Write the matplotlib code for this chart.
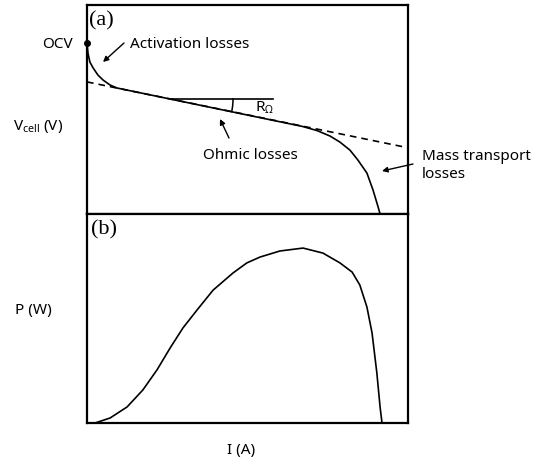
import numpy as np
import matplotlib
matplotlib.use("Agg")
import matplotlib.pyplot as plt

plt.rcParams['font.family'] = ['Noto Sans', 'DejaVu Sans']
plt.rcParams['mathtext.fontset'] = 'custom'
plt.rcParams['mathtext.rm'] = 'Noto Sans'
plt.rcParams['mathtext.it'] = 'Noto Sans'

# ---- data (arbitrary units) ----
# polarization curve (top panel)
current_v = [0.0, 0.3, 0.9, 1.9, 3.4, 5.0, 7.2, 9.3, 67.1,
             71.7, 75.7, 78.8, 81.9, 84.4, 87.2, 89.1, 90.7, 91.3]
voltage = [81.8, 77.0, 72.7, 69.9, 66.5, 64.1, 61.7, 60.3, 41.9,
           39.9, 37.3, 34.4, 30.6, 25.8, 19.6, 11.5, 3.3, 0.0]
# ohmic extrapolation (dashed)
ohmic_i = [0.0, 100.0]
ohmic_v = [63.2, 31.7]
# horizontal reference for R_Omega
ref_i = [26.4, 57.9]
ref_v = [55.0, 55.0]

# power curve (bottom panel)
current_p = [0.0, 2.5, 7.2, 12.5, 17.4, 21.8, 25.9, 29.9, 34.3, 39.3, 45.5, 49.8,
             53.9, 60.1, 67.3, 73.5, 78.8, 82.6, 85.0, 87.2, 88.8, 90.3, 91.3, 91.9]
power = [0.0, 0.0, 2.4, 7.7, 15.8, 25.4, 35.9, 45.5, 54.1, 63.6, 71.8, 76.6,
         79.4, 82.3, 83.7, 81.3, 76.6, 72.2, 66.0, 55.5, 43.1, 23.9, 7.7, 0.0]

W, H = 539, 461
fig = plt.figure(figsize=(W / 100, H / 100), dpi=100)

def fr(x, y):
    return x / W, 1 - y / H

left, right = 87, 408
top, mid, bottom = 5, 214, 423
ax1 = fig.add_axes([left / W, 1 - mid / H, (right - left) / W, (mid - top) / H])
ax2 = fig.add_axes([left / W, 1 - bottom / H, (right - left) / W, (bottom - mid) / H])

for ax in (ax1, ax2):
    ax.set_xlim(0, 100)
    ax.set_ylim(0, 100)
    ax.set_xticks([])
    ax.set_yticks([])
    for s in ax.spines.values():
        s.set_linewidth(1.6)
        s.set_color('black')

lw = 1.2
ax1.plot(ohmic_i, ohmic_v, color='black', lw=lw, linestyle=(0, (4, 3)))
ax1.plot(current_v, voltage, color='black', lw=lw, solid_joinstyle='round')
ax1.plot(ref_i, ref_v, color='black', lw=lw)
ax1.plot([current_v[0]], [voltage[0]], 'o', color='black', markersize=4, clip_on=False)

ax2.plot(current_p, power, color='black', lw=lw, solid_joinstyle='round')

# arc for R_Omega (pixel geometry around the vertex)
cx, cy, r = 172, 99, 61
t = np.radians(np.linspace(0, 12, 30))
arc_x = (cx + r * np.cos(t)) / W
arc_y = 1 - (cy + r * np.sin(t)) / H
fig.add_artist(plt.Line2D(arc_x, arc_y, color='black', lw=1.1, transform=fig.transFigure))

# panel tags
fig.text(*fr(89, 21), '(a)', fontsize=16, family='Liberation Serif', va='center', ha='left')
fig.text(*fr(91, 230), '(b)', fontsize=16, family='Liberation Serif', va='center', ha='left')

fs = 11
fig.text(*fr(42, 45), 'OCV', fontsize=fs, va='center', ha='left')
fig.text(*fr(13, 126), r'V$_{\mathrm{cell}}$ (V)', fontsize=fs, va='center', ha='left')
fig.text(*fr(15, 310), 'P (W)', fontsize=fs, va='center', ha='left')
fig.text(*fr(227, 450), 'I (A)', fontsize=fs, va='center', ha='left')
fig.text(*fr(130, 45), 'Activation losses', fontsize=fs, va='center', ha='left')
fig.text(*fr(203, 155), 'Ohmic losses', fontsize=fs, va='center', ha='left')
fig.text(*fr(422, 157), 'Mass transport', fontsize=fs, va='center', ha='left')
fig.text(*fr(422, 175), 'losses', fontsize=fs, va='center', ha='left')
fig.text(*fr(255, 108), r'R$_{\Omega}$', fontsize=fs, va='center', ha='left')

def arrow(x0, y0, x1, y1):
    fig.add_artist(matplotlib.patches.FancyArrowPatch(
        fr(x0, y0), fr(x1, y1), transform=fig.transFigure,
        arrowstyle='-|>', mutation_scale=8, lw=1.0, color='black',
        shrinkA=0, shrinkB=0))

arrow(124, 43, 103, 62)
arrow(229, 138, 220, 119)
arrow(413, 164, 382, 171)

fig.savefig('out.png', dpi=100)
